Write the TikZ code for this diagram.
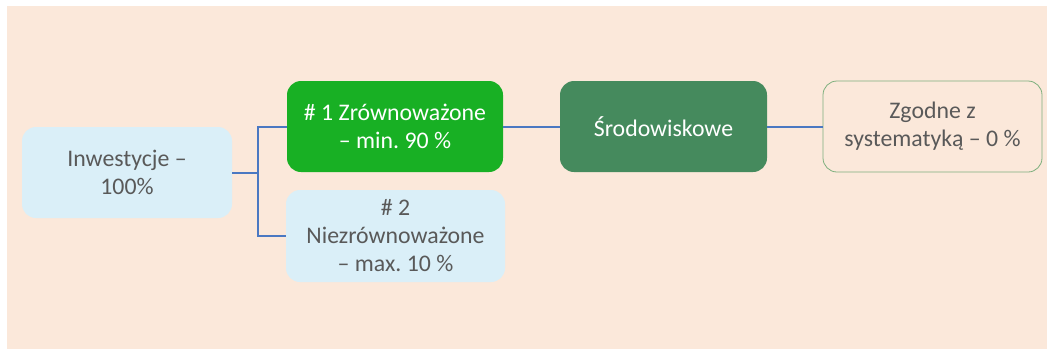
\documentclass[tikz,border=0pt]{standalone}
\usepackage{fontspec}
\setmainfont{Carlito}
\frenchspacing
\definecolor{bgpeach}{HTML}{FBE8DA}
\definecolor{lblue}{HTML}{DAEFF8}
\definecolor{brgreen}{HTML}{18B024}
\definecolor{dkgreen}{HTML}{458A5D}
\definecolor{txtgray}{HTML}{595959}
\definecolor{linkblue}{HTML}{4A78C2}
\definecolor{edgegreen}{HTML}{7DAF7D}
\tikzset{
  box/.style={rounded corners=14pt, align=center, inner sep=0pt,
    font=\fontsize{23.8}{28}\selectfont},
  lbbox/.style={box, fill=lblue, text=txtgray},
  link/.style={draw=linkblue, line width=2pt}
}
\begin{document}
\begin{tikzpicture}[x=1pt,y=-1pt]
\useasboundingbox (0,0) rectangle (1047,349);
\fill[white] (0,0) rectangle (1047,349);
\fill[bgpeach] (7,6) rectangle (1047,349);
\node[lbbox, minimum width=210pt, minimum height=91pt] (A) at (127,172.5) {Inwestycje –\\100\%};
\node[box, fill=brgreen, text=white, minimum width=216pt, minimum height=91pt] (B) at (395,126.5) {\# 1 Zrównoważone\\– min. 90 \%};
\node[lbbox, minimum width=219pt, minimum height=92pt] (C) at (395.5,236) {\# 2\\Niezrównoważone\\– max. 10 \%};
\node[box, fill=dkgreen, text=white, minimum width=207pt, minimum height=91pt] (D) at (663.5,126.5) {Środowiskowe};
\node[box, draw=edgegreen, line width=0.8pt, fill=bgpeach, text=txtgray, minimum width=219pt, minimum height=91pt] (E) at (932.5,126.5) {Zgodne z\\systematyką – 0 \%};
\coordinate (j) at (258,172.5);
\draw[link] (A.east) -- (j);
\draw[link] (j) |- (B.west);
\draw[link] (j) |- (C.west);
\draw[link] (B.east) -- (D.west);
\draw[link] (D.east) -- (E.west);
\end{tikzpicture}
\end{document}
